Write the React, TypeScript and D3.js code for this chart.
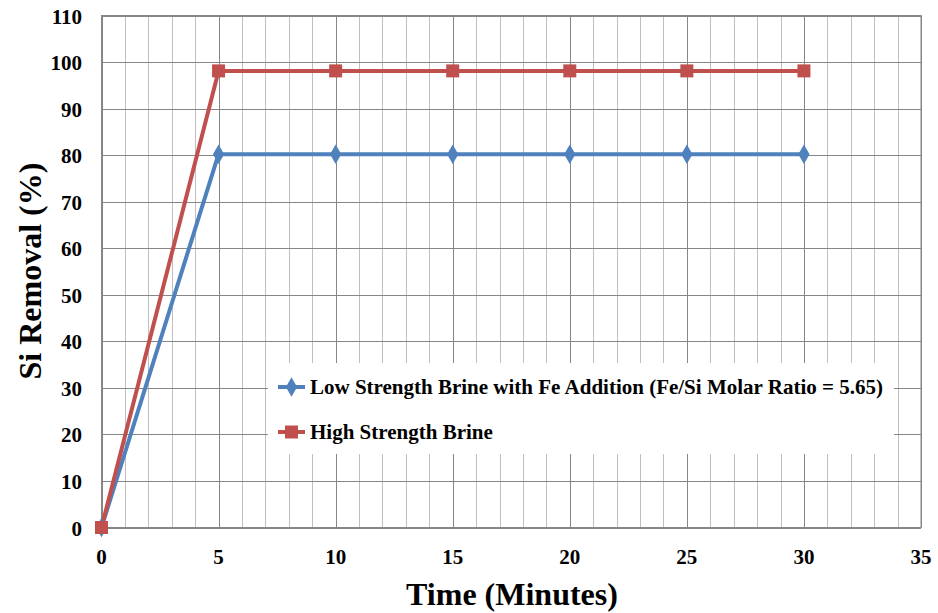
import React from "react";
import * as d3 from "d3";

const times = [0, 5, 10, 15, 20, 25, 30];
const lowStrength = [0, 80.2, 80.2, 80.2, 80.2, 80.2, 80.2];
const highStrength = [0, 98.1, 98.1, 98.1, 98.1, 98.1, 98.1];
const xTicks = [0, 5, 10, 15, 20, 25, 30, 35];
const yTicks = [0, 10, 20, 30, 40, 50, 60, 70, 80, 90, 100, 110];
const seriesNames = [
  "Low Strength Brine with Fe Addition (Fe/Si Molar Ratio = 5.65)",
  "High Strength Brine",
];

const W = 938, H = 613;
const left = 101.5, right = 921, top = 15.5, bottom = 527.5;
const FONT = "Liberation Serif, Times New Roman, Tinos, DejaVu Serif, serif";
const BLUE = "#4F81BD", RED = "#C0504D";
const txt = (size: number): React.CSSProperties => ({ fontFamily: FONT, fontWeight: 700, fontSize: size });

export default function App() {
  const x = d3.scaleLinear().domain([0, 35]).range([left, right]);
  const y = d3.scaleLinear().domain([0, 110]).range([bottom, top]);
  const minor = d3.range(0, 36, 1);
  const line = d3.line<number>().x((_, i) => x(times[i])).y((d) => y(d));
  const legend = { x0: 268, x1: 894, y0: 363, y1: 454 };
  const rows = [legend.y0 + 24, legend.y0 + 69];

  return (
    <svg width={W} height={H} style={{ position: "absolute", left: 0, top: 0, background: "#fff" }}>
      {minor.filter((v) => v % 5 !== 0).map((v) => (
        <line key={"m" + v} x1={Math.round(x(v)) + 0.5} x2={Math.round(x(v)) + 0.5} y1={top} y2={bottom} stroke="#BFBFBF" strokeWidth={1} />
      ))}
      {xTicks.map((v) => (
        <line key={"M" + v} x1={Math.round(x(v)) + 0.5} x2={Math.round(x(v)) + 0.5} y1={top} y2={bottom} stroke="#868686" strokeWidth={1} />
      ))}
      {yTicks.map((v) => (
        <line key={"h" + v} x1={left} x2={right} y1={Math.round(y(v)) + 0.5} y2={Math.round(y(v)) + 0.5} stroke="#868686" strokeWidth={1} />
      ))}
      <rect x={left} y={top} width={right - left} height={bottom - top} fill="none" stroke="#868686" strokeWidth={1} />
      <path d={line(lowStrength) || ""} fill="none" stroke={BLUE} strokeWidth={4} strokeLinejoin="round" />
      <path d={line(highStrength) || ""} fill="none" stroke={RED} strokeWidth={4} strokeLinejoin="round" />
      {lowStrength.map((v, i) => (
        <path key={"d" + i} d={d3.symbol(d3.symbolDiamond, 110)() || ""} transform={`translate(${x(times[i])},${y(v)})`} fill={BLUE} />
      ))}
      {highStrength.map((v, i) => (
        <rect key={"s" + i} x={x(times[i]) - 6.5} y={y(v) - 6.5} width={13} height={13} fill={RED} />
      ))}
      <rect x={legend.x0} y={legend.y0} width={legend.x1 - legend.x0} height={legend.y1 - legend.y0} fill="#fff" />
      {seriesNames.map((name, i) => (
        <g key={"l" + i}>
          <line x1={278} x2={305} y1={rows[i]} y2={rows[i]} stroke={i === 0 ? BLUE : RED} strokeWidth={4} />
          {i === 0 ? (
            <path d={d3.symbol(d3.symbolDiamond, 110)() || ""} transform={`translate(291.5,${rows[i]})`} fill={BLUE} />
          ) : (
            <rect x={285} y={rows[i] - 6.5} width={13} height={13} fill={RED} />
          )}
          <text x={310} y={rows[i] + 6.5} style={txt(21)} fill="#000">{name}</text>
        </g>
      ))}
      {yTicks.map((v) => (
        <text key={"yt" + v} x={82} y={y(v) + 8} textAnchor="end" style={txt(21)} fill="#000">{v}</text>
      ))}
      {xTicks.map((v) => (
        <text key={"xt" + v} x={x(v)} y={564} textAnchor="middle" style={txt(21)} fill="#000">{v}</text>
      ))}
      <text x={512} y={605} textAnchor="middle" style={txt(32)} fill="#000">Time (Minutes)</text>
      <text transform={`translate(41,271) rotate(-90)`} textAnchor="middle" style={txt(32)} fill="#000">Si Removal (%)</text>
    </svg>
  );
}
